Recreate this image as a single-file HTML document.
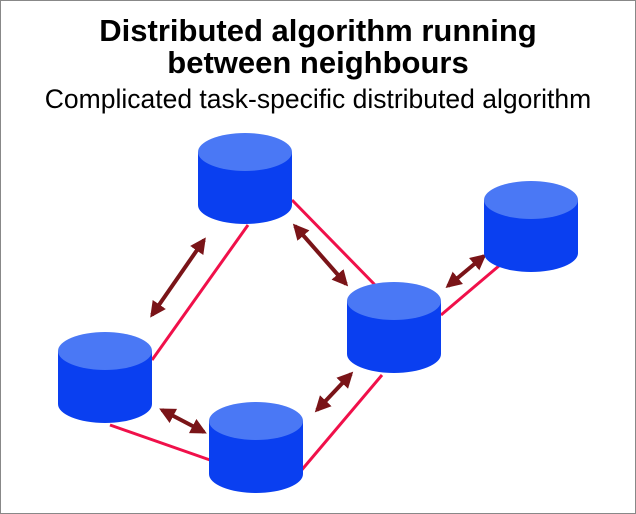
<!DOCTYPE html>
<html><head><style>
body{margin:0;width:636px;height:514px;overflow:hidden;background:#fff}
.b{position:absolute;left:0;top:0;width:634px;height:512px;border:1px solid #888}
.t{position:absolute;left:0;width:636px;text-align:center;font-family:"Liberation Sans",sans-serif;color:#000;white-space:nowrap}
</style></head><body>
<div class="b"></div>
<div class="t" style="top:15px;font-size:31px;font-weight:bold;line-height:32px">Distributed algorithm running<br>between neighbours</div>
<div class="t" style="top:84px;font-size:26.5px">Complicated task-specific distributed algorithm</div>
<svg width="636" height="514" style="position:absolute;left:0;top:0">
<defs>
<marker id="a" viewBox="0 0 10 10" refX="8" refY="5" markerWidth="4" markerHeight="4" orient="auto-start-reverse"><path d="M0,0L10,5L0,10z" fill="#7a1418"/></marker>
<g id="c"><path d="M0,19 V72 A47,19 0 0 0 94,72 V19z" fill="#0a3ff0"/><ellipse cx="47" cy="19" rx="47" ry="19" fill="#4a78f5"/></g>
</defs>
<g stroke="#f0104a" stroke-width="3">
<line x1="248" y1="225" x2="152" y2="360"/>
<line x1="292" y1="200" x2="378" y2="288"/>
<line x1="441" y1="315" x2="500" y2="265"/>
<line x1="110" y1="425" x2="210" y2="460"/>
<line x1="300" y1="472" x2="382" y2="375"/>
</g>
<g stroke="#7a1418" stroke-width="4" marker-start="url(#a)" marker-end="url(#a)">
<line x1="152" y1="315" x2="204" y2="240"/>
<line x1="295" y1="226" x2="346" y2="284"/>
<line x1="448" y1="286" x2="484" y2="256"/>
<line x1="162" y1="410" x2="204" y2="432"/>
<line x1="317" y1="410" x2="351" y2="374"/>
</g>
<use href="#c" x="198" y="133"/>
<use href="#c" x="484" y="181"/>
<use href="#c" x="347" y="282"/>
<use href="#c" x="58" y="332"/>
<use href="#c" x="209" y="402"/>
</svg>
</body></html>
